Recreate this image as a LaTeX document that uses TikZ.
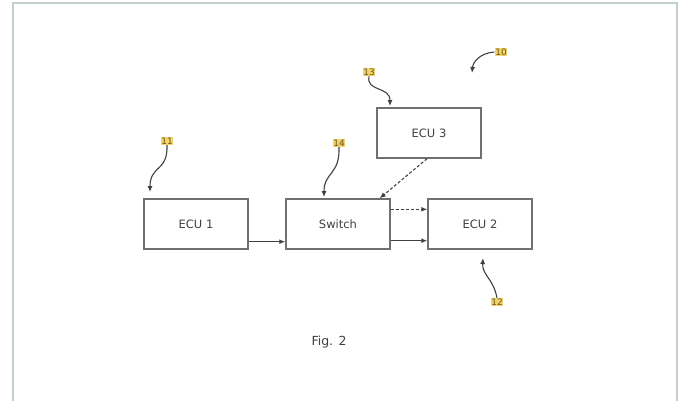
\documentclass[tikz,border=0pt]{standalone}
\usepackage{fontspec}
\setmainfont{DejaVu Sans}
\usepackage{tikz}
\usetikzlibrary{positioning,arrows.meta,calc}
\definecolor{framec}{HTML}{C3CFCF}
\definecolor{linec}{HTML}{707070}
\definecolor{tagc}{HTML}{F2D36E}
\definecolor{tagtext}{HTML}{6A5614}
\tikzset{
  ecu/.style={draw=linec, line width=1.4pt, minimum width=104pt, minimum height=50pt,
              inner sep=0pt, font=\fontsize{11.5}{13}\selectfont, text=black!75},
  arr/.style={-{Latex[length=6pt,width=5pt]}, line width=1.3pt, draw=black!75},
  darr/.style={arr, line width=1.1pt, dash pattern=on 3pt off 2pt},
  lead/.style={-{Latex[length=6pt,width=5pt]}, line width=1.1pt, draw=black!75},
  tag/.style={fill=tagc, text=tagtext, inner sep=0.7pt, font=\fontsize{9}{10}\selectfont},
}

\begin{document}
\begin{tikzpicture}[x=1pt, y=-1pt]
  \useasboundingbox (0,0) rectangle (679,400);
  \begin{scope}
    \clip (0,0) rectangle (679,400);
    \draw[framec, line width=2.5pt] (13,420) -- (13,3) -- (677,3) -- (677,420);
  \end{scope}

  \node[ecu] (ecu1) at (196,224) {ECU 1};
  \node[ecu] (switch) at (338,224) {Switch};
  \node[ecu] (ecu2) at (480,224) {ECU 2};
  \node[ecu] (ecu3) at (429,133) {ECU 3};

  \node[tag] (n10) at (501,52) {10};
  \node[tag] (n11) at (167,141) {11};
  \node[tag] (n12) at (497,302) {12};
  \node[tag] (n13) at (369,72) {13};
  \node[tag] (n14) at (339,143) {14};

  \node[font=\fontsize{12.5}{14}\selectfont, text=black!75] (fig) at (329,342) {Fig. 2};

  % links between the units
  \draw[arr] ([yshift=8pt]ecu1.south east) -- ([yshift=8pt]switch.south west);
  \draw[darr] ([yshift=-11pt]switch.north east) -- ([yshift=-11pt]ecu2.north west);
  \draw[arr] ([yshift=9pt]switch.south east) -- ([yshift=9pt]ecu2.south west);
  \draw[darr] ([xshift=-2pt]ecu3.south) -- ([xshift=-11pt]switch.north east);

  % reference numerals
  \coordinate (t10) at (472,73);
  \coordinate (t11) at (150,192);
  \coordinate (t12) at (483,258);
  \coordinate (t13) at (390,106);
  \coordinate (t14) at (324,197);
  \draw[lead] (n10.west) .. controls (480,53) and (473,62) .. (t10);
  \draw[lead] (n11.south) .. controls (168,172) and (150,165) .. (t11);
  \draw[lead] (n12.north) .. controls (493,278) and (482,275) .. (t12);
  \draw[lead] (n13.south) .. controls (366,92) and (390,86) .. (t13);
  \draw[lead] (n14.south) .. controls (340,175) and (324,172) .. (t14);
\end{tikzpicture}
\end{document}
